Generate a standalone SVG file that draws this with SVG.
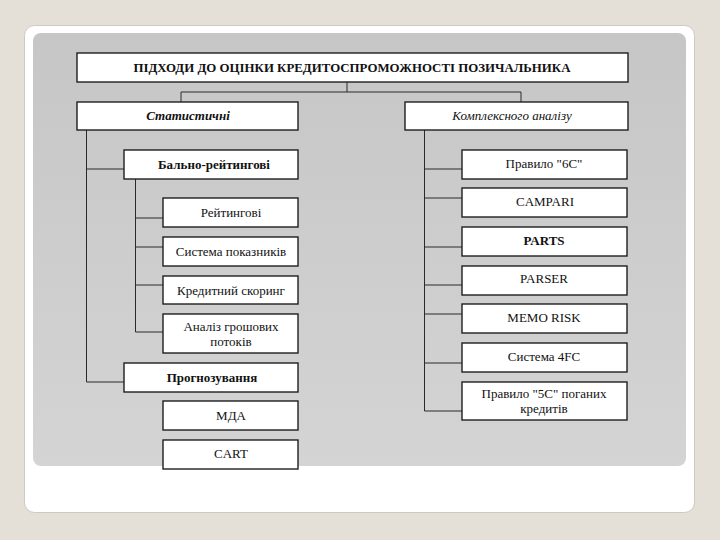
<svg xmlns="http://www.w3.org/2000/svg" width="720" height="540" viewBox="0 0 720 540">
<defs>
<linearGradient id="panel" x1="0" y1="0" x2="0" y2="1">
<stop offset="0" stop-color="#c6c6c6"/>
<stop offset="1" stop-color="#d4d4d4"/>
</linearGradient>
<style>
.box{fill:#ffffff;stroke:#1e1e1e;stroke-width:1.4}
.ln{fill:none;stroke:#2a2a2a;stroke-width:1}
text{font-family:"Liberation Serif","Times New Roman",serif;font-size:13px;fill:#111;text-anchor:middle}
.b{font-weight:bold}
.i{font-style:italic}
</style>
</defs>
<rect x="0" y="0" width="720" height="540" fill="#e5e0d7"/>
<rect x="24.5" y="25.5" width="670" height="487" rx="10" fill="#ffffff" stroke="#cfcac0" stroke-width="1"/>
<rect x="33" y="33" width="653" height="433" rx="8" fill="url(#panel)"/>

<g id="connectors">
<path class="ln" d="M347 82 V92 M181 92 H521 M181 92 V102 M521 92 V102"/>
<path class="ln" d="M86.5 130 V382 M86.5 169 H124 M86.5 382 H124"/>
<path class="ln" d="M135.5 179 V332 M135.5 218 H163 M135.5 247 H163 M135.5 285 H163 M135.5 332 H163"/>
<path class="ln" d="M424.5 130 V411 M424.5 169 H462 M424.5 198 H462 M424.5 247 H462 M424.5 285 H462 M424.5 314 H462 M424.5 363 H462 M424.5 411 H462"/>
</g>

<g id="title"><rect class="box" x="77" y="53" width="551" height="29"/><text class="b" x="352" y="72" textLength="437" lengthAdjust="spacingAndGlyphs">ПІДХОДИ ДО ОЦІНКИ КРЕДИТОСПРОМОЖНОСТІ ПОЗИЧАЛЬНИКА</text></g>

<g id="stat"><rect class="box" x="77" y="102" width="221" height="28"/><text class="b i" x="188" y="120">Статистичні</text></g>
<g id="complex"><rect class="box" x="405" y="102" width="223" height="28"/><text class="i" x="512" y="120">Комплексного аналізу</text></g>

<g id="ballo"><rect class="box" x="124" y="150" width="174" height="29"/><text class="b" x="214" y="168.5">Бально-рейтингові</text></g>
<g id="reit"><rect class="box" x="163" y="198" width="135" height="29"/><text x="231" y="216.5">Рейтингові</text></g>
<g id="syst"><rect class="box" x="163" y="237" width="135" height="29"/><text x="231" y="255.5">Система показників</text></g>
<g id="scor"><rect class="box" x="163" y="276" width="135" height="28"/><text x="231" y="294.5">Кредитний скоринг</text></g>
<g id="cash"><rect class="box" x="163" y="314" width="135" height="39"/><text x="231" y="331">Аналіз грошових</text><text x="231" y="346">потоків</text></g>
<g id="progn"><rect class="box" x="124" y="363" width="174" height="29"/><text class="b" x="212" y="381.5">Прогнозування</text></g>
<g id="mda"><rect class="box" x="163" y="401" width="135" height="29"/><text x="231" y="419.5">МДА</text></g>
<g id="cart"><rect class="box" x="163" y="440" width="135" height="29"/><text x="231" y="457.5">CART</text></g>

<g id="r6c"><rect class="box" x="462" y="150" width="165" height="29"/><text x="544" y="167.5">Правило "6С"</text></g>
<g id="campari"><rect class="box" x="462" y="188" width="165" height="29"/><text x="545" y="205.5">CAMPARI</text></g>
<g id="parts"><rect class="box" x="462" y="227" width="165" height="29"/><text class="b" x="544" y="244.5">PARTS</text></g>
<g id="parser"><rect class="box" x="462" y="266" width="165" height="29"/><text x="544" y="282.5">PARSER</text></g>
<g id="memo"><rect class="box" x="462" y="304" width="165" height="29"/><text x="544" y="321.5">MEMO RISK</text></g>
<g id="fc4"><rect class="box" x="462" y="343" width="165" height="29"/><text x="544" y="360.5">Система 4FC</text></g>
<g id="r5c"><rect class="box" x="462" y="382" width="165" height="38"/><text x="544" y="398">Правило "5С" поганих</text><text x="544" y="413">кредитів</text></g>
</svg>
